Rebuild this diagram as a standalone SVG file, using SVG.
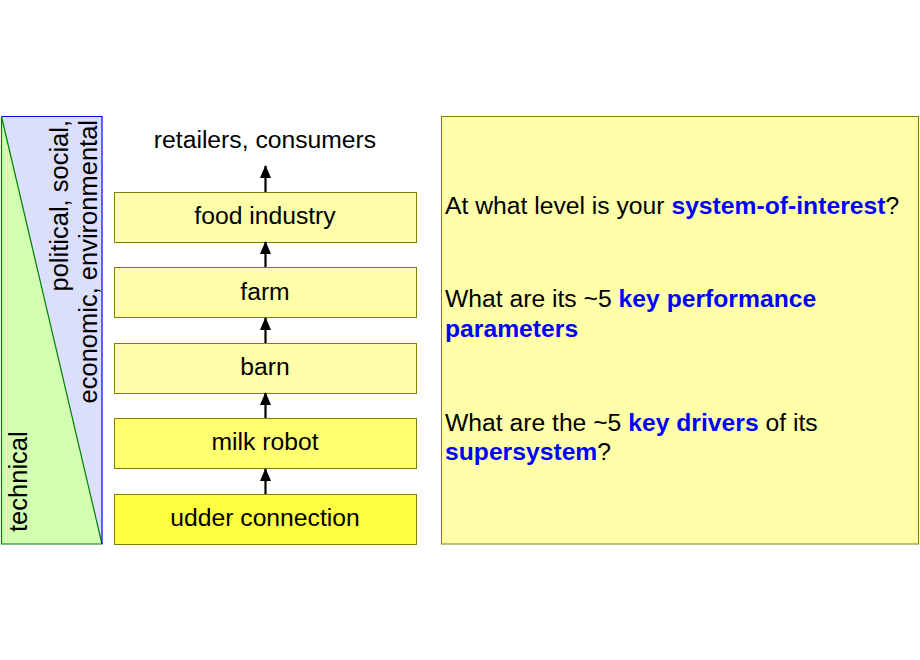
<svg xmlns="http://www.w3.org/2000/svg" width="920" height="660" viewBox="0 0 920 660">
<style>
text{font-family:"Liberation Sans",Arial,sans-serif;fill:#000}
.box{stroke:#808000;stroke-width:1}
.lbl{font-size:24.7px;text-anchor:middle}
.q{font-size:24.7px}
.b{font-weight:bold;fill:#0000ff}
.side{font-size:25.5px}
.conn{stroke:#000;stroke-width:2.2;fill:none;marker-end:url(#ah)}
</style>
<defs>
<marker id="ah" viewBox="0 0 13 11" refX="12" refY="5.5" markerWidth="13" markerHeight="11" markerUnits="userSpaceOnUse" orient="auto">
<path d="M0,0 L13,5.5 L0,11 Z" fill="#000"/>
</marker>
</defs>
<rect width="920" height="660" fill="#fff"/>
<g id="side-panel">
<polygon points="1.5,116.5 102,116.5 102,544" fill="#dcdffc" stroke="none"/>
<polygon points="1.5,116.5 102,544 1.5,544" fill="#d2ffb0" stroke="#008000" stroke-width="1.2"/>
<polyline points="1.5,116.5 102,116.5 102,544" fill="none" stroke="#0000ff" stroke-width="1.2"/>
<text class="side" transform="translate(27,532) rotate(-90)">technical</text>
<text class="side" transform="translate(68,120) rotate(-90)" text-anchor="end">political, social,</text>
<text class="side" transform="translate(97,120) rotate(-90)" text-anchor="end">economic, environmental</text>
</g>
<g id="retailers">
<text class="lbl" x="265" y="148">retailers, consumers</text>
</g>
<g id="food-industry">
<rect class="box" x="114.5" y="192.5" width="302" height="50" fill="#ffffaa"/>
<text class="lbl" x="265" y="224">food industry</text>
</g>
<g id="farm">
<rect class="box" x="114.5" y="267.5" width="302" height="50" fill="#ffffaa"/>
<text class="lbl" x="265" y="300">farm</text>
</g>
<g id="barn">
<rect class="box" x="114.5" y="343.5" width="302" height="50" fill="#ffffaa"/>
<text class="lbl" x="265" y="375">barn</text>
</g>
<g id="milk-robot">
<rect class="box" x="114.5" y="418.5" width="302" height="50" fill="#ffff70"/>
<text class="lbl" x="265" y="450">milk robot</text>
</g>
<g id="udder-connection">
<rect class="box" x="114.5" y="494.5" width="302" height="50" fill="#ffff40"/>
<text class="lbl" x="265" y="526">udder connection</text>
</g>
<g id="connectors">
<line class="conn" x1="265.5" y1="494" x2="265.5" y2="469"/>
<line class="conn" x1="265.5" y1="418" x2="265.5" y2="393"/>
<line class="conn" x1="265.5" y1="343" x2="265.5" y2="318"/>
<line class="conn" x1="265.5" y1="267" x2="265.5" y2="242"/>
<line class="conn" x1="265.5" y1="192" x2="265.5" y2="166"/>
</g>
<g id="questions">
<rect class="box" x="441.5" y="116.5" width="477" height="427.5" fill="#ffffaa"/>
<text class="q" x="445" y="214">At what level is your <tspan class="b">system-of-interest</tspan>?</text>
<text class="q" x="445" y="307">What are its ~5 <tspan class="b">key performance</tspan></text>
<text class="q" x="445" y="337"><tspan class="b">parameters</tspan></text>
<text class="q" x="445" y="431">What are the ~5 <tspan class="b">key drivers</tspan> of its</text>
<text class="q" x="445" y="460"><tspan class="b">supersystem</tspan>?</text>
</g>
</svg>
